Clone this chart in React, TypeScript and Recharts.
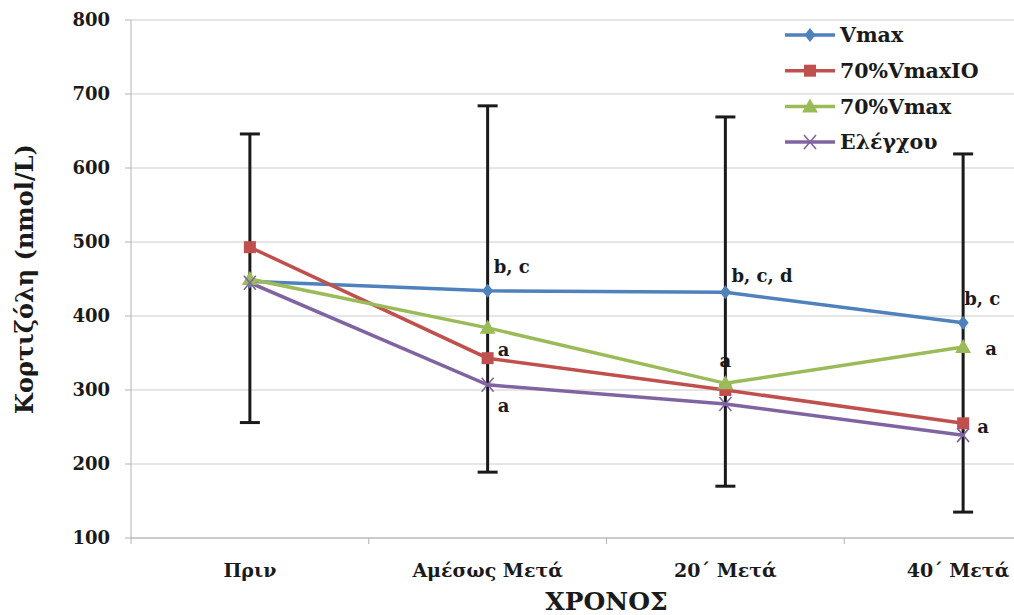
import { LineChart, Line, XAxis, YAxis, CartesianGrid, ErrorBar, LabelList, Legend, Label } from 'recharts';

const FONT = '"DejaVu Serif", "Liberation Serif", serif';
const INK = '#1a1a1a';
const AXIS = '#b3b3b3';

const categories = ['Πριν', 'Αμέσως Μετά', '20΄ Μετά', '40΄ Μετά'];
const seriesNames = ['Vmax', '70%VmaxIO', '70%Vmax', 'Ελέγχου'];
const vmax = [447, 434, 432, 391];
const vmaxIO = [493, 343, 300, 255];
const vmax70 = [450, 384, 309, 358];
const control = [445, 307, 281, 239];
// whiskers drawn around the Vmax series
const errTop = [646, 684, 669, 619];
const errBottom = [256, 189, 170, 135];
const vmaxNotes = ['', 'b, c', 'b, c, d', 'b, c'];
const ioNotes = ['', 'a', '', 'a'];
const v70Notes = ['', '', 'a', 'a'];
const controlNotes = ['', 'a', '', ''];
const yTicks = [100, 200, 300, 400, 500, 600, 700, 800];

const COLORS = ['#4f81bd', '#c0504d', '#9bbb59', '#8064a2'];
const SHAPES = ['diamond', 'square', 'triangle', 'x'];

const data = categories.map((name, i) => ({
  name,
  pos: i + 0.5,
  vmax: vmax[i],
  vmaxIO: vmaxIO[i],
  vmax70: vmax70[i],
  control: control[i],
  err: [vmax[i] - errBottom[i], errTop[i] - vmax[i]],
  vmaxNote: vmaxNotes[i],
  ioNote: ioNotes[i],
  v70Note: v70Notes[i],
  controlNote: controlNotes[i],
}));

// integer ticks = boundary marks, half ticks = category labels
const xTicks = categories.flatMap((_, i) => [i, i + 0.5]).concat(categories.length);

const Marker = ({ shape, cx, cy, color }: { shape: string; cx: number; cy: number; color: string }) => {
  switch (shape) {
    case 'diamond':
      return <polygon points={`${cx},${cy - 7} ${cx + 5.5},${cy} ${cx},${cy + 7} ${cx - 5.5},${cy}`} fill={color} />;
    case 'square':
      return <rect x={cx - 6} y={cy - 6} width={12} height={12} fill={color} />;
    case 'triangle':
      return <polygon points={`${cx},${cy - 8} ${cx + 8},${cy + 6} ${cx - 8},${cy + 6}`} fill={color} />;
    default:
      return (
        <path
          d={`M${cx - 6},${cy - 7}L${cx + 6},${cy + 7}M${cx - 6},${cy + 7}L${cx + 6},${cy - 7}`}
          stroke={color}
          strokeWidth={1.6}
          fill="none"
        />
      );
  }
};

const dotFor = (s: number) => (p: any) =>
  <Marker key={`${s}-${p.index}`} shape={SHAPES[s]} cx={p.cx} cy={p.cy} color={COLORS[s]} />;

const note = (place: (i: number) => [number, number, 'start' | 'middle']) => (p: any) => {
  const { x, y, value, index } = p;
  if (!value) return null;
  const [dx, dy, anchor] = place(index);
  return (
    <text x={x + dx} y={y + dy} textAnchor={anchor} fill={INK} fontSize={18} fontWeight={700} fontFamily={FONT}>
      {value}
    </text>
  );
};

const XTick = (props: any) => {
  const { x, y, payload } = props;
  const v = payload.value;
  if (Number.isInteger(v)) return <line x1={x} x2={x} y1={y - 6} y2={y} stroke={AXIS} />;
  // keep the last label inside the visible frame
  const cx = Math.min(x, 958);
  return (
    <text x={cx} y={y + 33} textAnchor="middle" fill={INK} fontSize={19} fontWeight={700} fontFamily={FONT}>
      {categories[Math.floor(v)]}
    </text>
  );
};

const LegendBox = () => (
  <svg width={240} height={140}>
    {seriesNames.map((label, i) => {
      const cy = 20 + i * 35.7;
      return (
        <g key={label}>
          <line x1={5} x2={55} y1={cy} y2={cy} stroke={COLORS[i]} strokeWidth={3.5} />
          <Marker shape={SHAPES[i]} cx={30} cy={cy} color={COLORS[i]} />
          <text x={60} y={cy} dy="0.35em" fill={INK} fontSize={20.5} fontWeight={700} fontFamily={FONT}>
            {label}
          </text>
        </g>
      );
    })}
  </svg>
);

export default function App() {
  return (
    <div style={{ position: 'absolute', left: 0, top: 0, width: 1014, height: 615, overflow: 'hidden', background: '#fff' }}>
      <LineChart width={1100} height={615} data={data} margin={{ top: 20, right: 18, left: 0, bottom: 0 }}>
        <CartesianGrid vertical={false} stroke="#cccccc" />
        <XAxis
          dataKey="pos"
          type="number"
          domain={[0, categories.length]}
          ticks={xTicks}
          interval={0}
          tickLine={false}
          tickSize={6}
          tickMargin={0}
          axisLine={{ stroke: AXIS }}
          tick={<XTick />}
          height={77}
        >
          <Label
            content={({ viewBox }: any) => (
              <text
                x={viewBox.x + viewBox.width / 2}
                y={viewBox.y + viewBox.height - 5}
                textAnchor="middle"
                fill={INK}
                fontSize={25}
                fontWeight={700}
                fontFamily={FONT}
              >
                ΧΡΟΝΟΣ
              </text>
            )}
          />
        </XAxis>
        <YAxis
          domain={[100, 800]}
          ticks={yTicks}
          interval={0}
          width={131}
          tickSize={6}
          tickMargin={15}
          axisLine={{ stroke: AXIS }}
          tickLine={{ stroke: AXIS }}
          tick={{ fill: INK, fontSize: 18, fontWeight: 700, fontFamily: FONT }}
        >
          <Label
            content={({ viewBox }: any) => (
              <text
                transform={`translate(33,${viewBox.y + viewBox.height / 2}) rotate(-90)`}
                textAnchor="middle"
                fill={INK}
                fontSize={24}
                fontWeight={700}
                fontFamily={FONT}
              >
                Κορτιζόλη (nmol/L)
              </text>
            )}
          />
        </YAxis>
        <Legend
          layout="vertical"
          align="center"
          verticalAlign="middle"
          content={<LegendBox />}
          wrapperStyle={{ left: 780, top: 15, width: 240, height: 140 }}
        />
        <Line dataKey="vmax" name={seriesNames[0]} stroke={COLORS[0]} strokeWidth={3.5} dot={dotFor(0)} isAnimationActive={false}>
          <ErrorBar dataKey="err" direction="y" width={10} stroke={INK} strokeWidth={3} />
          <LabelList dataKey="vmaxNote" content={note((i) => [i === 3 ? 1 : 6, i === 2 ? -10 : -18, 'start'])} />
        </Line>
        <Line dataKey="vmaxIO" name={seriesNames[1]} stroke={COLORS[1]} strokeWidth={3.5} dot={dotFor(1)} isAnimationActive={false}>
          <LabelList dataKey="ioNote" content={note((i) => (i === 3 ? [14, 10, 'start'] : [10, -2, 'start']))} />
        </Line>
        <Line dataKey="vmax70" name={seriesNames[2]} stroke={COLORS[2]} strokeWidth={3.5} dot={dotFor(2)} isAnimationActive={false}>
          <LabelList dataKey="v70Note" content={note((i) => (i === 3 ? [22, 8, 'start'] : [0, -16, 'middle']))} />
        </Line>
        <Line dataKey="control" name={seriesNames[3]} stroke={COLORS[3]} strokeWidth={3.5} dot={dotFor(3)} isAnimationActive={false}>
          <LabelList dataKey="controlNote" content={note(() => [10, 27, 'start'])} />
        </Line>
      </LineChart>
    </div>
  );
}
